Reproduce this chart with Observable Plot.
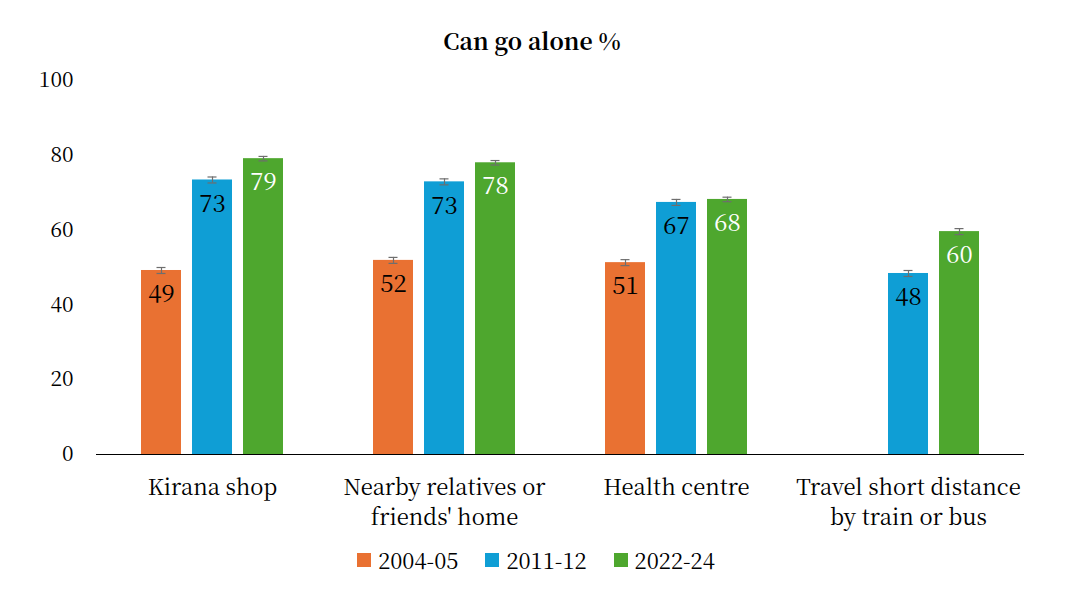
<!DOCTYPE html>
<html>
<head>
<meta charset="utf-8">
<script src="https://cdn.jsdelivr.net/npm/d3@7"></script>
<script src="https://cdn.jsdelivr.net/npm/@observablehq/plot@0.6"></script>
<style>
  body { margin: 0; background: #fff; font-family: "Noto Serif CJK SC", "Liberation Serif", serif; }
  #wrap { width: 1092px; height: 612px; position: relative; overflow: hidden; }
  #title { width: 1064px; height: 62px; text-align: center; font-weight: bold; font-size: 23px; line-height: 23px; padding-top: 29px; box-sizing: border-box; color: #000; }
  #legend { width: 1072px; display: flex; justify-content: center; gap: 27px; font-size: 22px; color: #000; margin-top: 4px; }
  .item { display: flex; align-items: center; gap: 7px; }
  .sw { width: 14px; height: 14px; display: inline-block; }
</style>
</head>
<body>
<div id="wrap">
  <div id="title">Can go alone %</div>
  <div id="chart"></div>
  <div id="legend"></div>
</div>
<script>
const categories = ["Kirana shop", "Nearby relatives or friends' home", "Health centre", "Travel short distance by train or bus"];
const categoryLabels = ["Kirana shop", "Nearby relatives or\nfriends' home", "Health centre", "Travel short distance\nby train or bus"];
const series = ["2004-05", "2011-12", "2022-24"];
const colors = ["#E97132", "#0F9ED5", "#4EA72E"];
const values2004 = [49.2, 51.9, 51.3, null];
const values2011 = [73.4, 72.9, 67.4, 48.4];
const values2022 = [79.1, 78.0, 68.2, 59.6];
const errors2004 = [0.8, 0.8, 0.8, null];
const errors2011 = [0.8, 0.8, 0.8, 0.8];
const errors2022 = [0.6, 0.6, 0.6, 0.8];

const allValues = [values2004, values2011, values2022];
const allErrors = [errors2004, errors2011, errors2022];
const data = [];
categories.forEach((c, i) => {
  series.forEach((s, j) => {
    const v = allValues[j][i];
    if (v != null) data.push({cat: c, series: s, value: v, err: allErrors[j][i]});
  });
});
const labelOf = new Map(categories.map((c, i) => [c, categoryLabels[i]]));
const FONT = "'Noto Serif CJK SC', 'Liberation Serif', serif";

const chart = Plot.plot({
  width: 1092,
  height: 478,
  marginLeft: 96,
  marginRight: 68,
  marginTop: 18,
  marginBottom: 86,
  style: {fontFamily: FONT, fontSize: "22px", color: "#000", background: "#fff"},
  fx: {domain: categories, padding: 0, label: null},
  x: {domain: series, paddingInner: 11 / 51, paddingOuter: 0.882, axis: null},
  y: {domain: [0, 100], label: null},
  color: {domain: series, range: colors},
  marks: [
    Plot.barY(data, {fx: "cat", x: "series", y: "value", fill: "series"}),
    Plot.ruleX(data, {fx: "cat", x: "series", y1: d => d.value - d.err, y2: d => d.value + d.err, stroke: "#6e6e6e", strokeWidth: 1.2}),
    Plot.tickY(data, {fx: "cat", x: "series", y: d => d.value - d.err, stroke: "#6e6e6e", strokeWidth: 1.2, insetLeft: 15.5, insetRight: 15.5}),
    Plot.tickY(data, {fx: "cat", x: "series", y: d => d.value + d.err, stroke: "#6e6e6e", strokeWidth: 1.2, insetLeft: 15.5, insetRight: 15.5}),
    Plot.text(data, {filter: d => d.series !== "2022-24", fx: "cat", x: "series", y: "value", text: d => d3.format(".0f")(d.value), dy: 24, fill: "#000", fontSize: 24}),
    Plot.text(data, {filter: d => d.series === "2022-24", fx: "cat", x: "series", y: "value", text: d => d3.format(".0f")(d.value), dy: 24, fill: "#fff", fontSize: 24}),
    Plot.ruleY([0], {stroke: "#000", strokeWidth: 1}),
    Plot.axisY({ticks: [0, 20, 40, 60, 80, 100], tickSize: 0, tickPadding: 23, line: true, label: null, fontSize: 21}),
    Plot.axisFx({anchor: "bottom", tickSize: 0, tickPadding: 19, tickFormat: c => labelOf.get(c), lineHeight: 1.36, label: null, fontSize: 22})
  ]
});
document.getElementById("chart").appendChild(chart);

const legend = document.getElementById("legend");
series.forEach((s, i) => {
  const item = document.createElement("div");
  item.className = "item";
  const sw = document.createElement("span");
  sw.className = "sw";
  sw.style.background = colors[i];
  const t = document.createElement("span");
  t.textContent = s;
  item.appendChild(sw);
  item.appendChild(t);
  legend.appendChild(item);
});
</script>
</body>
</html>
